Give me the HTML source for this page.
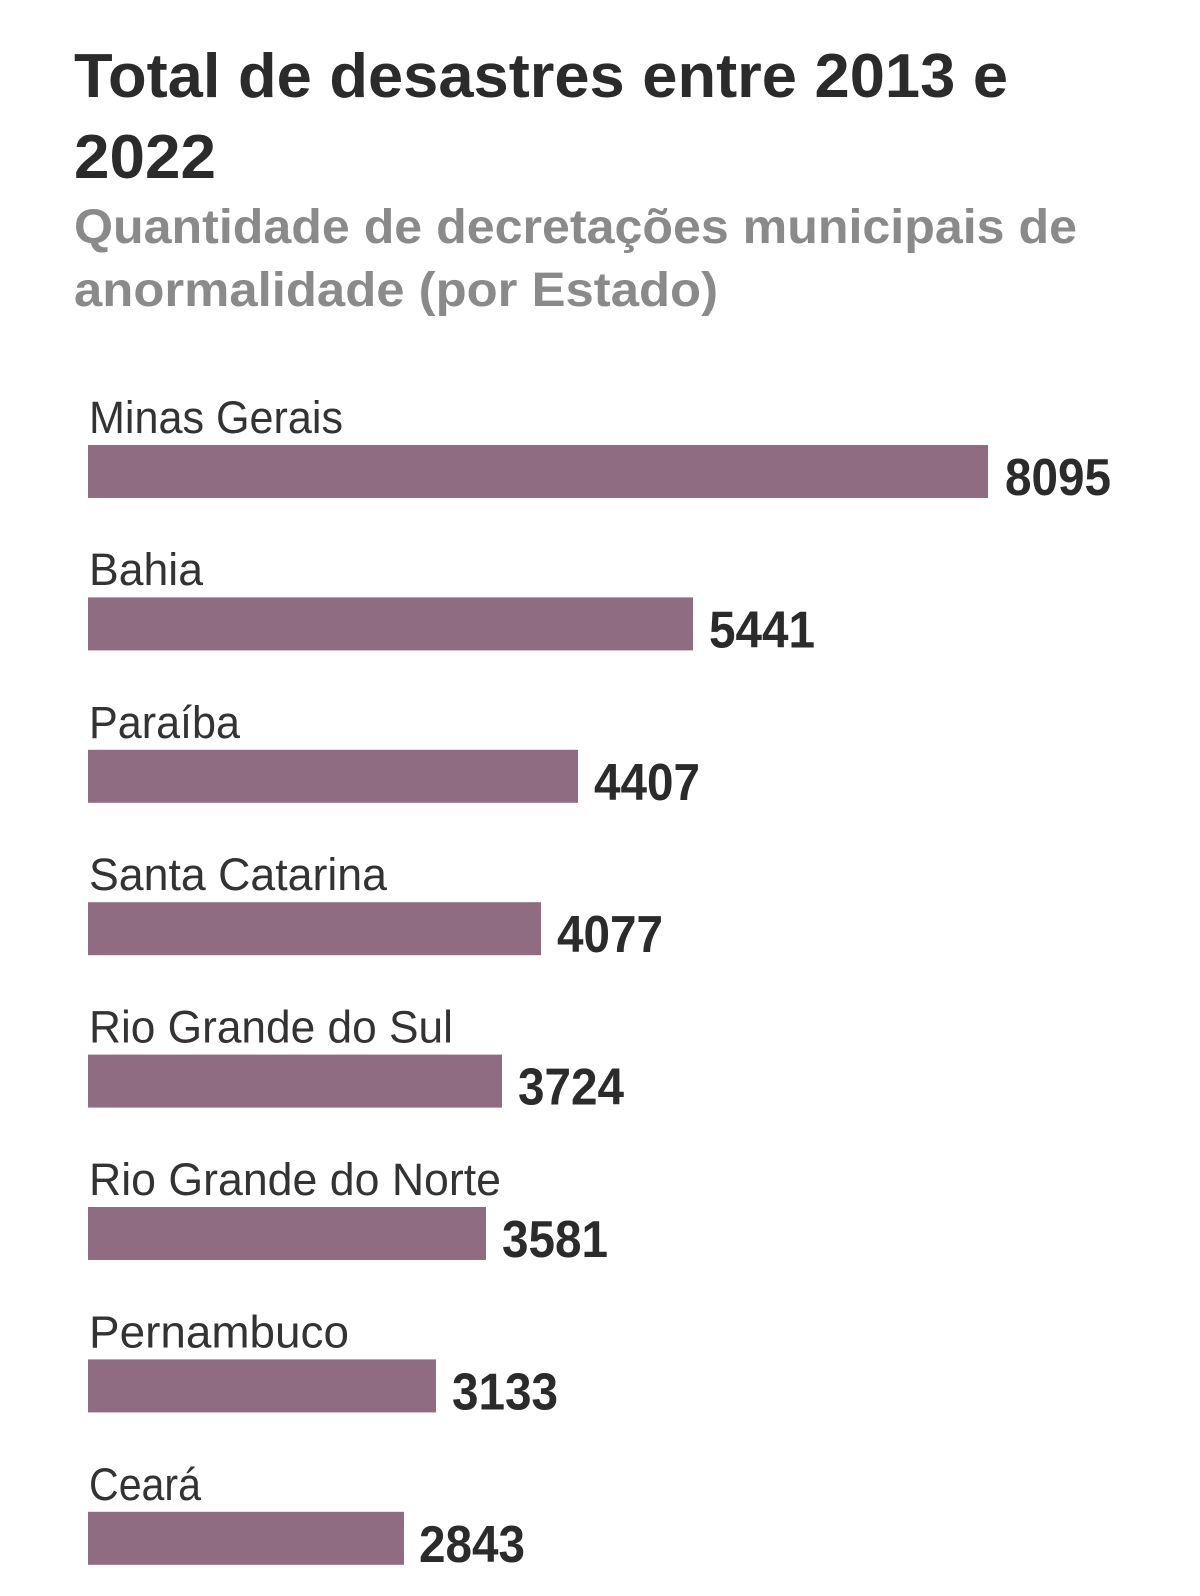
<!DOCTYPE html>
<html>
<head>
<meta charset="utf-8">
<style>
html,body{margin:0;padding:0;background:#fff;}
svg{display:block;}
text{font-family:"Liberation Sans",sans-serif;}
.t{font-weight:bold;fill:#2b2b2b;font-size:62px;}
.s{font-weight:bold;fill:#8a8a8a;font-size:48px;}
.l{fill:#333;font-size:45px;}
.n{font-weight:bold;fill:#2b2b2b;font-size:52px;}
.b{fill:#8f6c80;}
</style>
</head>
<body>
<svg width="1200" height="1596" viewBox="0 0 1200 1596" xmlns="http://www.w3.org/2000/svg">
<rect width="1200" height="1596" fill="#fff"/>
<text class="t" x="74" y="97" textLength="934" lengthAdjust="spacingAndGlyphs">Total de desastres entre 2013 e</text>
<text class="t" x="74" y="178" textLength="142" lengthAdjust="spacingAndGlyphs">2022</text>
<text class="s" x="74" y="243" textLength="1003" lengthAdjust="spacingAndGlyphs">Quantidade de decretações municipais de</text>
<text class="s" x="74" y="306" textLength="644" lengthAdjust="spacingAndGlyphs">anormalidade (por Estado)</text>

<!-- Minas Gerais -->
<text class="l" x="89" y="433" textLength="254" lengthAdjust="spacingAndGlyphs">Minas Gerais</text>
<rect class="b" x="88" y="445" width="900" height="53"/>
<text class="n" x="1005" y="495" textLength="106" lengthAdjust="spacingAndGlyphs">8095</text>

<!-- Bahia -->
<text class="l" x="89" y="585" textLength="114" lengthAdjust="spacingAndGlyphs">Bahia</text>
<rect class="b" x="88" y="597.4" width="605" height="53"/>
<text class="n" x="709" y="647.4" textLength="106" lengthAdjust="spacingAndGlyphs">5441</text>

<!-- Paraíba -->
<text class="l" x="89" y="737.8" textLength="151" lengthAdjust="spacingAndGlyphs">Paraíba</text>
<rect class="b" x="88" y="749.8" width="490" height="53"/>
<text class="n" x="594" y="799.8" textLength="106" lengthAdjust="spacingAndGlyphs">4407</text>

<!-- Santa Catarina -->
<text class="l" x="89" y="890.2" textLength="298" lengthAdjust="spacingAndGlyphs">Santa Catarina</text>
<rect class="b" x="88" y="902.2" width="453" height="53"/>
<text class="n" x="557" y="952.2" textLength="106" lengthAdjust="spacingAndGlyphs">4077</text>

<!-- Rio Grande do Sul -->
<text class="l" x="89" y="1042.6" textLength="364" lengthAdjust="spacingAndGlyphs">Rio Grande do Sul</text>
<rect class="b" x="88" y="1054.6" width="414" height="53"/>
<text class="n" x="518" y="1104.6" textLength="106" lengthAdjust="spacingAndGlyphs">3724</text>

<!-- Rio Grande do Norte -->
<text class="l" x="89" y="1195" textLength="412" lengthAdjust="spacingAndGlyphs">Rio Grande do Norte</text>
<rect class="b" x="88" y="1207" width="398" height="53"/>
<text class="n" x="502" y="1257" textLength="106" lengthAdjust="spacingAndGlyphs">3581</text>

<!-- Pernambuco -->
<text class="l" x="89" y="1347.4" textLength="260" lengthAdjust="spacingAndGlyphs">Pernambuco</text>
<rect class="b" x="88" y="1359.4" width="348" height="53"/>
<text class="n" x="452" y="1409.4" textLength="106" lengthAdjust="spacingAndGlyphs">3133</text>

<!-- Ceará -->
<text class="l" x="89" y="1499.8" textLength="112" lengthAdjust="spacingAndGlyphs">Ceará</text>
<rect class="b" x="88" y="1511.8" width="316" height="53"/>
<text class="n" x="419" y="1561.8" textLength="106" lengthAdjust="spacingAndGlyphs">2843</text>
</svg>
</body>
</html>
